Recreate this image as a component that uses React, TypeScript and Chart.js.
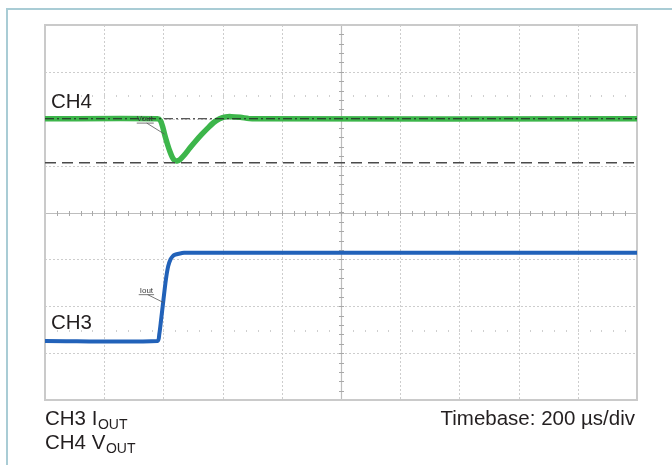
import React, { useEffect, useRef } from "react";
import { Chart, registerables } from "chart.js";

Chart.register(...registerables);

// Time axis in divisions (10 div, 200 µs/div), amplitude in divisions (8 div)
const greenX = [0, 1.9, 1.95, 1.99, 2.03, 2.07, 2.11, 2.15, 2.19, 2.23, 2.28, 2.35, 2.45, 2.55, 2.65, 2.75, 2.85, 2.95, 3.05, 3.15, 3.3, 3.5, 10];
const greenY = [6.0, 6.0, 5.96, 5.82, 5.62, 5.45, 5.3, 5.18, 5.11, 5.1, 5.13, 5.22, 5.38, 5.53, 5.67, 5.8, 5.92, 6.0, 6.04, 6.045, 6.03, 6.0, 6.0];

const blueX = [0, 1.9, 1.93, 1.96, 2.0, 2.04, 2.08, 2.12, 2.16, 2.2, 2.26, 2.35, 2.5, 10];
const blueY = [1.26, 1.26, 1.4, 1.7, 2.13, 2.55, 2.85, 3.0, 3.07, 3.1, 3.12, 3.14, 3.14, 3.14];

const refDashX = [0, 10];
const refDashY = [5.06, 5.06];
const refDotDashX = [0, 10];
const refDotDashY = [6.0, 6.0];

const xDivs = [0, 1, 2, 3, 4, 5, 6, 7, 8, 9, 10];
const yDivs = [0, 1, 2, 3, 4, 5, 6, 7, 8];

const labelCH4 = "CH4";
const labelCH3 = "CH3";
const footLeft1 = ["CH3 I", "OUT"];
const footLeft2 = ["CH4 V", "OUT"];
const footRight = "Timebase: 200 µs/div";
const annVout = "Vout";
const annIout = "Iout";

const FONT = '"Liberation Sans", Arial, Helvetica, sans-serif';
const GREEN = "#3db64b";
const BLUE = "#2262b9";
const TEXT = "#231f20";

const pts = (xs: number[], ys: number[]) => xs.map((x, i) => ({ x, y: ys[i] }));

const graticule = {
  id: "graticule",
  beforeDatasetsDraw(chart: any) {
    const { ctx, chartArea: a, scales } = chart;
    const sx = scales.x, sy = scales.y;
    ctx.save();
    ctx.strokeStyle = "#cdcdcd";
    ctx.lineWidth = 1;
    ctx.setLineDash([2, 2]);
    xDivs.forEach((v) => {
      if (v === 0 || v === 10 || v === 5) return;
      const px = Math.round(sx.getPixelForValue(v)) + 0.5;
      ctx.beginPath(); ctx.moveTo(px, a.top); ctx.lineTo(px, a.bottom); ctx.stroke();
    });
    yDivs.forEach((v) => {
      if (v === 0 || v === 8 || v === 4) return;
      const py = Math.round(sy.getPixelForValue(v)) + 0.5;
      ctx.beginPath(); ctx.moveTo(a.left, py); ctx.lineTo(a.right, py); ctx.stroke();
    });
    ctx.setLineDash([]);
    ctx.fillStyle = "#cfcfcf";
    [6.5, 1.5].forEach((v) => {
      const py = Math.round(sy.getPixelForValue(v));
      for (let t = 0.2; t < 10; t += 0.2) {
        const px = Math.round(sx.getPixelForValue(t));
        ctx.fillRect(px, py, 1, 2);
      }
    });
    const cx = Math.round(sx.getPixelForValue(5)) + 0.5;
    const cy = Math.round(sy.getPixelForValue(4)) + 0.5;
    ctx.strokeStyle = "#bdbdbd";
    ctx.lineWidth = 1.2;
    ctx.beginPath(); ctx.moveTo(cx, a.top); ctx.lineTo(cx, a.bottom); ctx.stroke();
    ctx.beginPath(); ctx.moveTo(a.left, cy); ctx.lineTo(a.right, cy); ctx.stroke();
    ctx.strokeStyle = "#a8a8a8";
    ctx.lineWidth = 1;
    for (let t = 0.2; t < 10; t += 0.2) {
      const px = Math.round(sx.getPixelForValue(t)) + 0.5;
      ctx.beginPath(); ctx.moveTo(px, cy - 2.5); ctx.lineTo(px, cy + 2.5); ctx.stroke();
    }
    for (let t = 0.2; t < 8; t += 0.2) {
      const py = Math.round(sy.getPixelForValue(t)) + 0.5;
      ctx.beginPath(); ctx.moveTo(cx - 2.5, py); ctx.lineTo(cx + 2.5, py); ctx.stroke();
    }
    ctx.strokeStyle = "#cacaca";
    ctx.lineWidth = 2;
    ctx.strokeRect(a.left, a.top, a.right - a.left, a.bottom - a.top);
    ctx.restore();
  },
  afterDatasetsDraw(chart: any) {
    const { ctx, scales } = chart;
    const sx = scales.x, sy = scales.y;
    ctx.save();
    ctx.fillStyle = "#3a3a3a";
    ctx.strokeStyle = "#555";
    ctx.lineWidth = 0.8;
    ctx.font = `8px ${FONT}`;
    ctx.textBaseline = "alphabetic";
    let x0 = sx.getPixelForValue(1.55), y0 = sy.getPixelForValue(5.95);
    ctx.fillText(annVout, x0, y0);
    let w = ctx.measureText(annVout).width;
    ctx.beginPath(); ctx.moveTo(x0, y0 + 2); ctx.lineTo(x0 + w + 1, y0 + 2); ctx.stroke();
    ctx.beginPath(); ctx.moveTo(x0 + 10, y0 + 2); ctx.lineTo(sx.getPixelForValue(2.02), sy.getPixelForValue(5.67)); ctx.stroke();
    x0 = sx.getPixelForValue(1.6); y0 = sy.getPixelForValue(2.29);
    ctx.fillText(annIout, x0, y0);
    w = ctx.measureText(annIout).width;
    ctx.beginPath(); ctx.moveTo(x0 - 1, y0 + 2); ctx.lineTo(x0 + w + 1, y0 + 2); ctx.stroke();
    ctx.beginPath(); ctx.moveTo(x0 + 8, y0 + 2); ctx.lineTo(sx.getPixelForValue(2.0), sy.getPixelForValue(2.08)); ctx.stroke();
    ctx.restore();
  },
  afterDraw(chart: any) {
    const { ctx, chartArea: a } = chart;
    ctx.save();
    ctx.fillStyle = TEXT;
    ctx.textBaseline = "alphabetic";
    ctx.font = `20.5px ${FONT}`;
    ctx.fillText(labelCH4, a.left + 6, 108);
    ctx.fillText(labelCH3, a.left + 6, 329);
    const sub = (parts: string[], x: number, y: number) => {
      ctx.font = `20.5px ${FONT}`;
      ctx.fillText(parts[0], x, y);
      const w = ctx.measureText(parts[0]).width;
      ctx.font = `14px ${FONT}`;
      ctx.fillText(parts[1], x + w + 0.5, y + 4);
    };
    sub(footLeft1, a.left, 425);
    sub(footLeft2, a.left, 449);
    ctx.font = `20.5px ${FONT}`;
    ctx.textAlign = "right";
    ctx.fillText(footRight, a.right - 2, 425);
    ctx.restore();
  },
};

export default function App() {
  const ref = useRef<HTMLCanvasElement | null>(null);
  useEffect(() => {
    if (!ref.current) return;
    const chart = new Chart(ref.current, {
      type: "line",
      data: {
        datasets: [
          { data: pts(greenX, greenY), borderColor: GREEN, borderWidth: 5.5, pointRadius: 0, tension: 0.25, order: 4 },
          { data: pts(blueX, blueY), borderColor: BLUE, borderWidth: 4, pointRadius: 0, tension: 0.25, order: 3 },
          { data: pts(refDashX, refDashY), borderColor: "#4a4a4a", borderWidth: 1.5, borderDash: [11, 6], pointRadius: 0, order: 2 },
          { data: pts(refDotDashX, refDotDashY), borderColor: "#222", borderWidth: 1, borderDash: [9, 3, 2, 3], pointRadius: 0, order: 1 },
        ],
      },
      options: {
        responsive: false,
        maintainAspectRatio: false,
        animation: false,
        layout: { padding: { left: 45, top: 25, right: 35, bottom: 65 } },
        scales: {
          x: { type: "linear", min: 0, max: 10, display: false },
          y: { type: "linear", min: 0, max: 8, display: false },
        },
        plugins: { legend: { display: false }, tooltip: { enabled: false } },
      },
      plugins: [graticule],
    } as any);
    return () => chart.destroy();
  }, []);
  return (
    <div style={{ position: "absolute", left: 0, top: 0, width: 672, height: 465, background: "#fff", overflow: "hidden" }}>
      <div style={{ position: "absolute", left: 6, top: 8, width: 700, height: 500, borderLeft: "2px solid #a9ccd5", borderTop: "2px solid #a9ccd5" }} />
      <canvas ref={ref} width={672} height={465} style={{ position: "absolute", left: 0, top: 0, width: 672, height: 465 }} />
    </div>
  );
}
